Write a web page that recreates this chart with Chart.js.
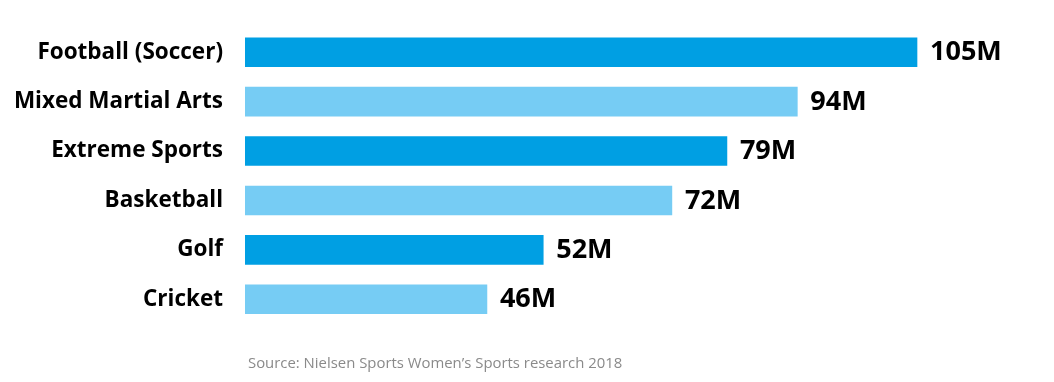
<!DOCTYPE html>
<html>
<head>
<meta charset="utf-8">
<script src="https://cdn.jsdelivr.net/npm/chart.js@4/dist/chart.umd.min.js"></script>
<style>
  html, body { margin: 0; padding: 0; background: #fff; }
  #wrap { position: relative; width: 1054px; height: 382px; }
  #chart { position: absolute; left: 0; top: 0; }
  #source {
    position: absolute; left: 248px; top: 352px;
    font-family: "Open Sans", sans-serif; font-size: 14.9px; color: #8a8a8a;
  }
</style>
</head>
<body>
<div id="wrap">
  <canvas id="chart" width="1054" height="382"></canvas>
  <div id="source">Source: Nielsen Sports Women’s Sports research 2018</div>
</div>
<script>
// categorias e valores (milhões de espectadoras)
const sports = ["Football (Soccer)", "Mixed Martial Arts", "Extreme Sports", "Basketball", "Golf", "Cricket"];
const valueLabels = ["105M", "94M", "79M", "72M", "52M", "46M"];
// comprimento das barras como aparecem no gráfico original
const barValues = [105, 86.3, 75.3, 66.7, 46.6, 37.8];
const barColors = ["#009fe3", "#76ccf4", "#009fe3", "#76ccf4", "#009fe3", "#76ccf4"];

const valueLabelPlugin = {
  id: "valueLabels",
  afterDatasetsDraw(chart) {
    const ctx = chart.ctx;
    const meta = chart.getDatasetMeta(0);
    ctx.save();
    ctx.font = "bold 27px 'Open Sans'";
    ctx.fillStyle = "#000";
    ctx.textAlign = "left";
    ctx.textBaseline = "middle";
    meta.data.forEach((bar, i) => {
      ctx.fillText(valueLabels[i], bar.x + 13, bar.y + 0.5);
    });
    ctx.restore();
  },
};

new Chart(document.getElementById("chart").getContext("2d"), {
  type: "bar",
  data: {
    labels: sports,
    datasets: [
      {
        data: barValues,
        backgroundColor: barColors,
        borderWidth: 0,
        barThickness: 29,
        categoryPercentage: 1,
      },
    ],
  },
  options: {
    indexAxis: "y",
    responsive: false,
    animation: false,
    layout: { padding: { left: 0, right: 9, top: 9, bottom: 58 } },
    plugins: {
      legend: { display: false },
      tooltip: { enabled: false },
    },
    scales: {
      x: {
        display: false,
        min: 0,
        max: 125,
      },
      y: {
        grid: { display: false },
        border: { display: false },
        afterFit: (scale) => {
          scale.width = 245;
        },
        ticks: {
          padding: 14,
          color: "#000",
          font: { family: "Open Sans", size: 22.5, weight: "bold" },
        },
      },
    },
  },
  plugins: [valueLabelPlugin],
});
</script>
</body>
</html>
